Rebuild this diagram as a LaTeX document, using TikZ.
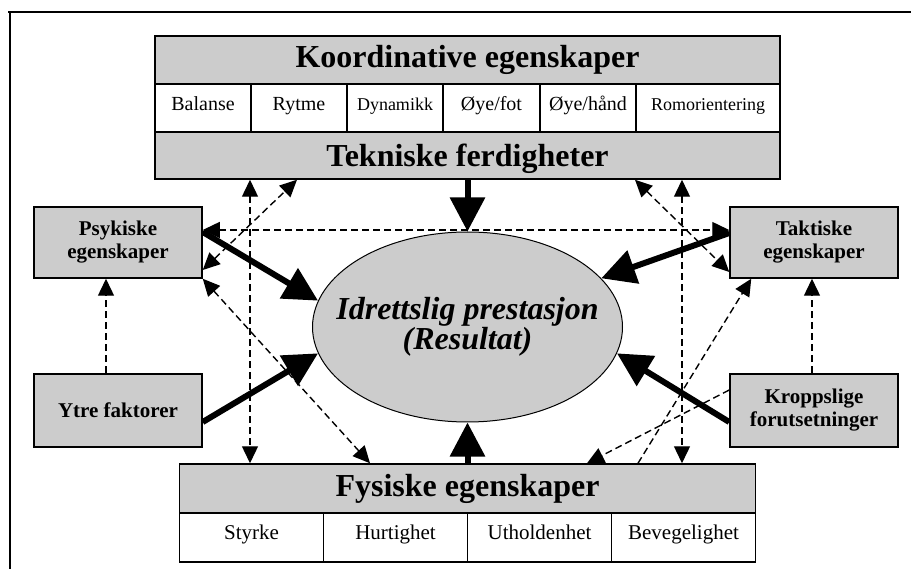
\documentclass[tikz,border=0pt]{standalone}
\usepackage{fontspec}
\setmainfont{Liberation Serif}
\usetikzlibrary{arrows.meta}
\usetikzlibrary{shapes.geometric}

\tikzset{
  graybox/.style={draw, line width=1.5pt, fill=gray!40, inner sep=0pt},
  cellbox/.style={draw, line width=1.5pt, fill=white, inner sep=0pt, minimum height=48pt, text height=0.7em, text depth=0.22em},
  sidebox/.style={graybox, minimum width=168pt, align=center, font=\fontsize{21}{23}\selectfont\bfseries},
  bigarrow/.style={line width=6pt, -{Triangle[length=34pt,width=34pt]}},
  dashline/.style={line width=1.4pt, dash pattern=on 7pt off 4pt},
}

\begin{document}
\begin{tikzpicture}[x=1pt, y=-1pt, >={Triangle[length=17pt,width=16pt]}]
            \useasboundingbox (0,0) rectangle (911,569);
            \draw[line width=1.5pt] (8,12) -- (911,12);
            \draw[line width=1.5pt] (10,12) -- (10,569);

            \node[graybox, minimum width=625pt, minimum height=48pt, font=\fontsize{32}{34}\selectfont\bfseries] (koord) at (467.5,60) {Koordinative egenskaper};
            \node[cellbox, minimum width=96pt, font=\fontsize{20}{22}\selectfont] (bal) at (203,108) {Balanse};
            \node[cellbox, minimum width=96pt, font=\fontsize{20}{22}\selectfont] (ryt) at (299,108) {Rytme};
            \node[cellbox, minimum width=96pt, font=\fontsize{18}{20}\selectfont] (dyn) at (395,108) {Dynamikk};
            \node[cellbox, minimum width=97pt, font=\fontsize{20}{22}\selectfont] (fot) at (491.5,108) {Øye/fot};
            \node[cellbox, minimum width=96pt, font=\fontsize{20}{22}\selectfont] (hand) at (588,108) {Øye/hånd};
            \node[cellbox, minimum width=144pt, font=\fontsize{18}{20}\selectfont] (rom) at (708,108) {Romorientering};
            \node[graybox, minimum width=625pt, minimum height=47pt, text depth=0pt, font=\fontsize{32}{34}\selectfont\bfseries] (tek) at (467.5,155.5) {Tekniske ferdigheter};

            \node[sidebox, minimum height=71pt] (psy) at (118,242.5) {Psykiske\\egenskaper};
            \node[sidebox, minimum height=71pt] (tak) at (814,242.5) {Taktiske\\egenskaper};
            \node[sidebox, minimum height=73pt] (ytre) at (118,410.5) {Ytre faktorer};
            \node[sidebox, minimum height=73pt] (kropp) at (814,410.5) {Kroppslige\\forutsetninger};

            \node[ellipse, draw, line width=1pt, fill=gray!40, minimum width=310pt, minimum height=190pt, inner xsep=-40pt, inner ysep=0pt, align=center, font=\fontsize{32}{29}\selectfont\bfseries\itshape] (ell) at (467.5,327) {Idrettslig prestasjon\\(Resultat)};

            \node[graybox, minimum width=576pt, minimum height=49pt, font=\fontsize{32}{34}\selectfont\bfseries] (fys) at (467.5,488.5) {Fysiske egenskaper};
            \node[cellbox, minimum width=144pt, minimum height=49pt, font=\fontsize{21}{23}\selectfont] (sty) at (251.5,537.5) {Styrke};
            \node[cellbox, minimum width=144pt, minimum height=49pt, font=\fontsize{21}{23}\selectfont] (hur) at (395.5,537.5) {Hurtighet};
            \node[cellbox, minimum width=144pt, minimum height=49pt, font=\fontsize{21}{23}\selectfont] (uth) at (539.5,537.5) {Utholdenhet};
            \node[cellbox, minimum width=144pt, minimum height=49pt, font=\fontsize{21}{23}\selectfont] (bev) at (683.5,537.5) {Bevegelighet};

            \draw[bigarrow] (tek.south) -- (ell.north);
            \draw[bigarrow] (fys.north) -- (ell.south);
            \draw[bigarrow] ([yshift=10.5pt]psy.east) -- (ell.170);
            \draw[bigarrow] ([yshift=-11.5pt]ytre.east) -- (ell.190);
            \draw[bigarrow] ([yshift=-11.5pt]kropp.west) -- (ell.-10);
            \draw[bigarrow] ([yshift=9.5pt]tak.west) -- (ell.20);

            \draw[dashline, <->] ([xshift=-217.5pt]tek.south) -- ([xshift=-217.5pt]fys.north);
            \draw[dashline, <->] ([xshift=214.5pt]tek.south) -- ([xshift=214.5pt]fys.north);
            \draw[dashline, <->] ([yshift=-27.5pt]psy.east) -- ([xshift=-170.5pt]tek.south);
            \draw[dashline, <->] ([xshift=167.5pt]tek.south) -- ([yshift=-29.5pt]tak.west);
            \draw[dashline, <->] ([yshift=12.5pt]psy.east) -- ([yshift=12.5pt]tak.west);
            \draw[dashline, <->] (psy.south east) -- ([xshift=-97.5pt]fys.north);
            \draw[dashline, ->] ([xshift=-12pt]ytre.north) -- ([xshift=-12pt]psy.south);
            \draw[dashline, ->] ([xshift=-2pt]kropp.north) -- ([xshift=-2pt]tak.south);
            \draw[dashline, ->] ([xshift=170.5pt]fys.north) -- ([xshift=22pt]tak.south west);
            \draw[dashline, ->] ([yshift=20.5pt]kropp.west) -- ([xshift=119.5pt]fys.north);
        \end{tikzpicture}
\end{document}
